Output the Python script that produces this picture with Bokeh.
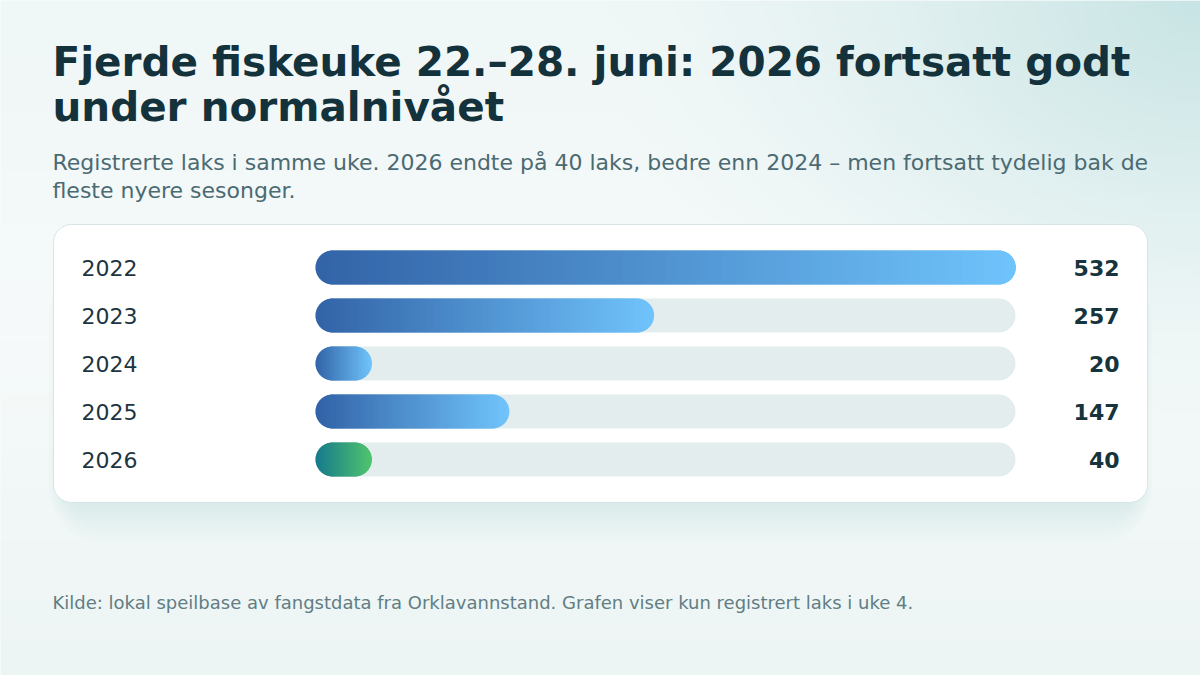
import numpy as np
from bokeh.plotting import figure
from bokeh.models import Range1d, Label
from bokeh.core.properties import value
from bokeh.embed import file_html
from bokeh.resources import INLINE

# ---------------- data ----------------
years = ["2022", "2023", "2024", "2025", "2026"]
counts = [532, 257, 20, 147, 40]
highlight_year = "2026"
title_lines = ["Fjerde fiskeuke 22.–28. juni: 2026 fortsatt godt", "under normalnivået"]
subtitle_lines = [
    "Registrerte laks i samme uke. 2026 endte på 40 laks, bedre enn 2024 – men fortsatt tydelig bak de",
    "fleste nyere sesonger.",
]
source_note = "Kilde: lokal speilbase av fangstdata fra Orklavannstand. Grafen viser kun registrert laks i uke 4."

# ---------------- layout / style ----------------
W, H = 1200, 675
FONT = "DejaVu Sans"
BLUE = ((45, 95, 165), (108, 194, 252))
GREEN = ((16, 118, 137), (76, 194, 106))
SHIFT = 0.35  # empirical baseline correction (fraction of font size)


def Y(sy):
    return H - sy


def hexc(c):
    return "#%02x%02x%02x" % tuple(int(round(v)) for v in c)


def base_y(baseline, fs):
    return Y(baseline - SHIFT * fs)


p = figure(width=W, height=H, x_range=Range1d(0, W), y_range=Range1d(0, H),
           output_backend="svg", toolbar_location=None, min_border=0)
p.axis.visible = False
p.grid.visible = False
p.outline_line_color = None
p.background_fill_color = "#f2f8f8"
p.border_fill_color = "#f2f8f8"

# background gradient
gw, gh = 240, 135
xs = (np.arange(gw) + 0.5) * W / gw
sys_ = H - (np.arange(gh) + 0.5) * H / gh
X, SY = np.meshgrid(xs, sys_)
t = (SY / H)[..., None]
top = np.array([240, 247, 247.0])
mid = np.array([246, 250, 250.0])
bot = np.array([237, 245, 244.0])
base = np.where(t < 0.5, top + (mid - top) * (t / 0.5), mid + (bot - mid) * ((t - 0.5) / 0.5))
d = np.sqrt((X - W) ** 2 + (SY * 1.3) ** 2)
g = (np.clip(1 - d / 600.0, 0, 1) ** 1.4)[..., None]
glow = np.array([200, 228, 228.0])
rgb = base * (1 - g) + glow * g
img = np.empty((gh, gw), dtype=np.uint32)
view = img.view(dtype=np.uint8).reshape((gh, gw, 4))
view[..., 0] = rgb[..., 0].astype(np.uint8)
view[..., 1] = rgb[..., 1].astype(np.uint8)
view[..., 2] = rgb[..., 2].astype(np.uint8)
view[..., 3] = 255
p.image_rgba(image=[img], x=0, y=0, dw=W, dh=H)

# card
cx0, cx1, cy0, cy1 = 53, 1147, 224, 502
for k in range(12):
    e = k * 3.5
    p.quad(left=cx0 + 10 - e * 0.4, right=cx1 - 10 + e * 0.4, top=Y(cy0 + 40), bottom=Y(cy1 + 2 + e),
           border_radius=int(18 + e), fill_color="#1f5555", fill_alpha=0.007, line_color=None)
p.quad(left=cx0, right=cx1, top=Y(cy0), bottom=Y(cy1), border_radius=18,
       fill_color="white", line_color="#d6e5e5", line_width=1)

# bars
track_x0, track_w, bar_h = 315, 700, 34
row0, row_gap = 267, 48
min_frac = 0.08
vmax = max(counts)
r = bar_h / 2
rr = int(r)

sl_l, sl_r, sl_t, sl_b, sl_c = [], [], [], [], []
for i, (yr, c) in enumerate(zip(years, counts)):
    cy = Y(row0 + i * row_gap)
    p.quad(left=track_x0, right=track_x0 + track_w, top=cy + r, bottom=cy - r,
           border_radius=rr, fill_color="#e4edee", line_color=None)
    frac = max(c / vmax, min_frac)
    x0 = track_x0
    x1 = track_x0 + frac * track_w
    c0, c1 = GREEN if yr == highlight_year else BLUE
    c0 = np.array(c0, float)
    c1 = np.array(c1, float)
    n = int(round((x1 - x0) / 0.5))
    step = (x1 - x0) / n
    for j in range(n):
        l = x0 + j * step
        xc = l + step / 2
        fr = (xc - x0) / (x1 - x0)
        u = min(xc - x0, x1 - xc)
        if u < r:
            hh = np.sqrt(max(r * r - (r - u) ** 2, 0.0))
        else:
            hh = r
        sl_l.append(l)
        sl_r.append(l + step + 0.4)
        sl_t.append(cy + hh)
        sl_b.append(cy - hh)
        sl_c.append(hexc(c0 + (c1 - c0) * fr))
p.quad(left=sl_l, right=sl_r, top=sl_t, bottom=sl_b, fill_color=sl_c, line_color=None)

fs_row = 22
row_y = [base_y(row0 + i * row_gap + 8, fs_row) for i in range(len(years))]
p.text(x=[81] * len(years), y=row_y, text=years, text_font=value(FONT), text_font_size=f"{fs_row}px",
       text_color="#1d3540", text_baseline="alphabetic", text_align="left")
p.text(x=[1119] * len(years), y=row_y, text=[str(c) for c in counts], text_font=value(FONT),
       text_font_size=f"{fs_row}px", text_font_style="bold", text_color="#17343d",
       text_baseline="alphabetic", text_align="right")

# texts
fs_t, fs_s, fs_f = 40.5, 22, 18
for k, line in enumerate(title_lines):
    p.add_layout(Label(x=52, y=base_y(76 + k * 45, fs_t), text=line, text_font=FONT,
                       text_font_size=f"{fs_t}px", text_font_style="bold", text_color="#14323b",
                       text_baseline="alphabetic"))
for k, line in enumerate(subtitle_lines):
    p.add_layout(Label(x=52, y=base_y(170 + k * 28, fs_s), text=line, text_font=FONT,
                       text_font_size=f"{fs_s}px", text_color="#4b6a72", text_baseline="alphabetic"))
p.add_layout(Label(x=52, y=base_y(608, fs_f), text=source_note, text_font=FONT,
                   text_font_size=f"{fs_f}px", text_color="#627d84", text_baseline="alphabetic"))

open("out.html", "w").write(file_html(p, INLINE))
